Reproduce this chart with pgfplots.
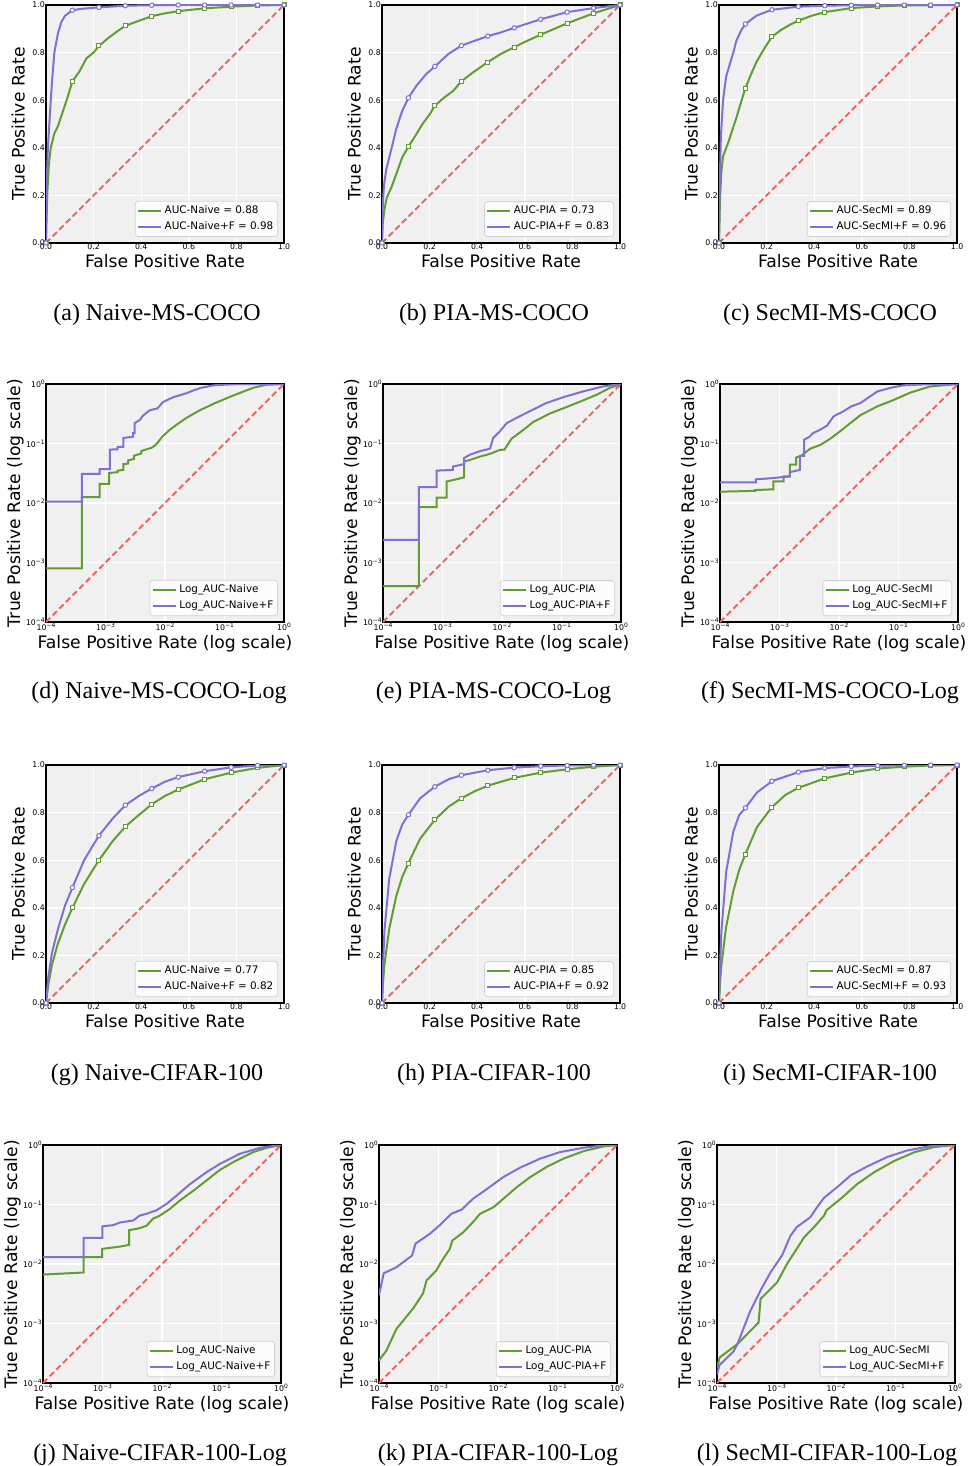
\documentclass[border=0pt]{standalone}
\usepackage{fontspec}
\setmainfont{DejaVu Sans}
\newfontfamily\capfont{Liberation Serif}
\usepackage{pgfplots}
\pgfplotsset{compat=1.18}

\definecolor{cgreen}{RGB}{96,158,50}
\definecolor{cpurple}{RGB}{128,112,214}
\definecolor{cred}{RGB}{238,102,96}
\definecolor{bgc}{RGB}{240,240,240}
\definecolor{legc}{RGB}{210,210,210}

% log tick label: 10 with a raised exponent
\newcommand{\lt}[1]{10\raisebox{1.5pt}{\fontsize{3}{3}\selectfont #1}}

\pgfplotsset{
  rocbase/.style={
    scale only axis, width=119pt, height=119pt,
    axis background/.style={fill=bgc},
    grid=major, major grid style={white, line width=0.7pt},
    axis line style={black, line width=0.9pt},
    major tick length=0pt, minor tick length=0pt,
    tick label style={font=\fontsize{3.9}{4.5}\selectfont, inner sep=0.8pt},
    xticklabel style={yshift=0.6pt},
    yticklabel style={xshift=0.4pt},
    label style={font=\fontsize{8.6}{10}\selectfont},
    /pgf/number format/assume math mode=true,
    legend cell align=left,
    legend style={at={(0.975,0.025)}, anchor=south east,
      font=\fontsize{5.2}{6}\selectfont, draw=legc, fill=white,
      fill opacity=0.8, text opacity=1, rounded corners=1.5pt,
      inner sep=1pt, nodes={inner sep=1.2pt}},
    legend image code/.code={\draw[##1] (0pt,0pt) -- (11.5pt,0pt);},
  },
  roclin/.style={rocbase,
    xmin=0, xmax=1, ymin=0, ymax=1,
    xtick={0,0.2,0.4,0.6,0.8,1}, ytick={0,0.2,0.4,0.6,0.8,1},
    tick label style={/pgf/number format/fixed,
      /pgf/number format/fixed zerofill, /pgf/number format/precision=1},
    xlabel={False Positive Rate}, ylabel={True Positive Rate},
    xlabel style={at={(axis description cs:0.5,-0.102)}, anchor=base},
    ylabel style={at={(axis description cs:-0.09,0.5)}, anchor=base},
  },
  roclog/.style={rocbase,
    xmin=1e-4, xmax=1, ymin=1e-4, ymax=1,
    xtick={1e-4,1e-3,1e-2,1e-1,1}, ytick={1e-4,1e-3,1e-2,1e-1,1},
    xticklabels={\lt{−4},\lt{−3},\lt{−2},\lt{−1},\lt{0}},
    yticklabels={\lt{−4},\lt{−3},\lt{−2},\lt{−1},\lt{0}},
    xlabel={False Positive Rate (log scale)}, ylabel={True Positive Rate (log scale)},
    xlabel style={at={(axis description cs:0.5,-0.11)}, anchor=base},
    ylabel style={at={(axis description cs:-0.109,0.5)}, anchor=base},
  },
  gl/.style={draw=cgreen, line width=1pt, no markers},
  pl/.style={draw=cpurple, line width=1pt, no markers},
  gm/.style={only marks, mark=square*, mark size=1pt,
    mark options={draw=cgreen, fill=white, line width=0.5pt}, forget plot},
  pm/.style={only marks, mark=*, mark size=1.1pt,
    mark options={draw=cpurple, fill=white, line width=0.5pt}, forget plot},
  diag/.style={draw=cred, line width=1pt, dash pattern=on 3pt off 1.7pt, forget plot},
}

\begin{document}
\begin{tikzpicture}
\path[use as bounding box] (0,0) rectangle (484.5pt,-733pt);

% ---------- row 1: MS-COCO, linear ----------
\begin{axis}[roclin, at={(23pt,-2.5pt)}, anchor=north west]
\addplot[diag] coordinates {(0,0)(1,1)};
\addplot[gl] coordinates {(0,0)(0.003,0.12)(0.006,0.22)(0.012,0.33)(0.02,0.40)(0.035,0.46)(0.05,0.49)(0.07,0.55)(0.09,0.61)(0.1111,0.68)(0.14,0.72)(0.17,0.776)(0.2,0.80)(0.2222,0.828)(0.26,0.86)(0.3,0.89)(0.3333,0.912)(0.38,0.93)(0.4444,0.953)(0.5,0.965)(0.5556,0.974)(0.6667,0.986)(0.7778,0.993)(0.8889,0.998)(1,1)};
\addplot[pl] coordinates {(0,0)(0.003,0.25)(0.008,0.4)(0.014,0.5)(0.02,0.6)(0.027,0.7)(0.035,0.8)(0.05,0.88)(0.065,0.93)(0.08,0.955)(0.1111,0.978)(0.15,0.984)(0.2222,0.99)(0.3333,0.997)(0.4444,0.999)(0.5556,1)(1,1)};
\addplot[gm] coordinates {(0,0)(0.1111,0.68)(0.2222,0.828)(0.3333,0.912)(0.4444,0.953)(0.5556,0.974)(0.6667,0.986)(0.7778,0.993)(0.8889,0.998)(1,1)};
\addplot[pm] coordinates {(0,0)(0.1111,0.978)(0.2222,0.99)(0.3333,0.997)(0.4444,0.999)(0.5556,1)(0.6667,1)(0.7778,1)(0.8889,1)(1,1)};
\legend{AUC-Naive = 0.88, AUC-Naive+F = 0.98}
\end{axis}

\begin{axis}[roclin, at={(191pt,-2.5pt)}, anchor=north west]
\addplot[diag] coordinates {(0,0)(1,1)};
\addplot[gl] coordinates {(0,0)(0.003,0.08)(0.01,0.14)(0.02,0.19)(0.04,0.235)(0.06,0.29)(0.085,0.36)(0.1111,0.405)(0.14,0.45)(0.17,0.5)(0.2,0.54)(0.2222,0.577)(0.26,0.61)(0.3,0.64)(0.3333,0.679)(0.38,0.715)(0.4444,0.76)(0.5,0.795)(0.5556,0.823)(0.6,0.845)(0.6667,0.875)(0.7778,0.923)(0.8889,0.965)(1,1)};
\addplot[pl] coordinates {(0,0)(0.003,0.15)(0.008,0.24)(0.018,0.31)(0.039,0.393)(0.06,0.48)(0.085,0.555)(0.1111,0.61)(0.144,0.66)(0.186,0.71)(0.2222,0.742)(0.28,0.795)(0.3333,0.829)(0.39,0.85)(0.4444,0.869)(0.5,0.885)(0.5556,0.904)(0.6667,0.94)(0.7778,0.97)(0.8889,0.987)(1,1)};
\addplot[gm] coordinates {(0,0)(0.1111,0.405)(0.2222,0.577)(0.3333,0.679)(0.4444,0.76)(0.5556,0.823)(0.6667,0.875)(0.7778,0.923)(0.8889,0.965)(1,1)};
\addplot[pm] coordinates {(0,0)(0.1111,0.61)(0.2222,0.742)(0.3333,0.829)(0.4444,0.869)(0.5556,0.904)(0.6667,0.94)(0.7778,0.97)(0.8889,0.987)(1,1)};
\legend{AUC-PIA = 0.73, AUC-PIA+F = 0.83}
\end{axis}

\begin{axis}[roclin, at={(359.5pt,-2.5pt)}, anchor=north west]
\addplot[diag] coordinates {(0,0)(1,1)};
\addplot[gl] coordinates {(0,0)(0.004,0.18)(0.01,0.3)(0.017,0.364)(0.038,0.42)(0.073,0.526)(0.095,0.6)(0.1111,0.651)(0.135,0.71)(0.157,0.76)(0.192,0.82)(0.2222,0.866)(0.26,0.895)(0.3,0.918)(0.3333,0.934)(0.39,0.955)(0.4444,0.97)(0.5556,0.987)(0.6667,0.994)(0.7778,0.998)(0.8889,0.999)(1,1)};
\addplot[pl] coordinates {(0,0)(0.003,0.25)(0.008,0.45)(0.017,0.6)(0.03,0.7)(0.045,0.75)(0.06,0.8)(0.073,0.85)(0.094,0.895)(0.1111,0.92)(0.157,0.955)(0.2222,0.98)(0.3333,0.993)(0.4444,0.997)(0.5556,0.999)(0.6667,1)(1,1)};
\addplot[gm] coordinates {(0,0)(0.1111,0.651)(0.2222,0.866)(0.3333,0.934)(0.4444,0.97)(0.5556,0.987)(0.6667,0.994)(0.7778,0.998)(0.8889,0.999)(1,1)};
\addplot[pm] coordinates {(0,0)(0.1111,0.92)(0.2222,0.98)(0.3333,0.993)(0.4444,0.997)(0.5556,0.999)(0.6667,1)(0.7778,1)(0.8889,1)(1,1)};
\legend{AUC-SecMI = 0.89, AUC-SecMI+F = 0.96}
\end{axis}

% ---------- row 2: MS-COCO, log ----------
\begin{loglogaxis}[roclog, at={(23pt,-192pt)}, anchor=north west]
\addplot[diag] coordinates {(1e-4,1e-4)(1,1)};
\addplot[gl] coordinates {(1e-4,8e-4)(4e-4,8e-4)(4e-4,0.0125)(8e-4,0.0125)(8e-4,0.021)(1.15e-3,0.021)(1.15e-3,0.032)(1.6e-3,0.033)(1.6e-3,0.035)(2.0e-3,0.036)(2.0e-3,0.045)(2.4e-3,0.046)(2.4e-3,0.052)(3.0e-3,0.055)(3.0e-3,0.062)(4e-3,0.068)(4e-3,0.075)(6e-3,0.085)(7e-3,0.095)(9e-3,0.13)(0.012,0.17)(0.016,0.21)(0.023,0.27)(0.038,0.36)(0.07,0.48)(0.14,0.64)(0.3,0.86)(0.5,0.97)(1,1)};
\addplot[pl] coordinates {(1e-4,0.0105)(4e-4,0.0105)(4e-4,0.031)(8e-4,0.031)(8e-4,0.037)(1.18e-3,0.037)(1.18e-3,0.079)(1.6e-3,0.08)(1.6e-3,0.088)(2e-3,0.088)(2e-3,0.124)(2.9e-3,0.13)(2.9e-3,0.15)(3.1e-3,0.15)(3.1e-3,0.22)(3.8e-3,0.25)(4.2e-3,0.29)(5.5e-3,0.36)(7.5e-3,0.39)(9.3e-3,0.5)(0.0138,0.6)(0.023,0.7)(0.03,0.78)(0.04,0.86)(0.065,0.95)(0.14,0.99)(1,1)};
\legend{Log\_AUC-Naive, Log\_AUC-Naive+F}
\end{loglogaxis}

\begin{loglogaxis}[roclog, at={(191.5pt,-192pt)}, anchor=north west]
\addplot[diag] coordinates {(1e-4,1e-4)(1,1)};
\addplot[gl] coordinates {(1e-4,4e-4)(4e-4,4e-4)(4e-4,8.5e-3)(8e-4,8.5e-3)(8e-4,0.0123)(1.17e-3,0.0123)(1.17e-3,0.023)(1.7e-3,0.025)(2.3e-3,0.027)(2.3e-3,0.05)(2.9e-3,0.053)(4.2e-3,0.06)(6.3e-3,0.067)(9.2e-3,0.078)(0.011,0.079)(0.0144,0.12)(0.023,0.17)(0.0335,0.23)(0.064,0.32)(0.107,0.39)(0.2,0.5)(0.39,0.66)(0.65,0.86)(1,1)};
\addplot[pl] coordinates {(1e-4,2.4e-3)(4e-4,2.4e-3)(4e-4,0.0185)(8e-4,0.0185)(8e-4,0.035)(1.5e-3,0.036)(1.5e-3,0.041)(2.3e-3,0.045)(2.3e-3,0.057)(2.9e-3,0.065)(4.2e-3,0.074)(6.3e-3,0.082)(7.1e-3,0.124)(9.2e-3,0.16)(0.012,0.22)(0.0176,0.27)(0.0295,0.35)(0.056,0.48)(0.107,0.6)(0.23,0.75)(0.5,0.91)(1,1)};
\legend{Log\_AUC-PIA, Log\_AUC-PIA+F}
\end{loglogaxis}

\begin{loglogaxis}[roclog, at={(360pt,-192pt)}, anchor=north west]
\addplot[diag] coordinates {(1e-4,1e-4)(1,1)};
\addplot[gl] coordinates {(1e-4,0.0155)(3.9e-4,0.016)(3.9e-4,0.0165)(7.9e-4,0.017)(7.9e-4,0.023)(1.17e-3,0.023)(1.17e-3,0.028)(1.5e-3,0.028)(1.5e-3,0.044)(1.9e-3,0.044)(1.9e-3,0.058)(2.3e-3,0.062)(3.3e-3,0.082)(4.9e-3,0.095)(7.1e-3,0.12)(0.0104,0.16)(0.0155,0.22)(0.023,0.3)(0.044,0.42)(0.083,0.54)(0.16,0.72)(0.34,0.91)(1,1)};
\addplot[pl] coordinates {(1e-4,0.0222)(4e-4,0.0222)(4e-4,0.025)(7e-4,0.026)(1.5e-3,0.028)(1.5e-3,0.033)(2.2e-3,0.036)(2.2e-3,0.062)(2.6e-3,0.062)(2.6e-3,0.116)(3.2e-3,0.13)(3.7e-3,0.15)(4.8e-3,0.17)(6.3e-3,0.2)(8.1e-3,0.286)(0.012,0.35)(0.016,0.42)(0.023,0.48)(0.044,0.75)(0.073,0.86)(0.12,0.95)(0.3,0.99)(1,1)};
\legend{Log\_AUC-SecMI, Log\_AUC-SecMI+F}
\end{loglogaxis}

% ---------- row 3: CIFAR-100, linear ----------
\begin{axis}[roclin, at={(23pt,-382.5pt)}, anchor=north west]
\addplot[diag] coordinates {(0,0)(1,1)};
\addplot[gl] coordinates {(0,0)(0.01,0.08)(0.025,0.16)(0.05,0.25)(0.08,0.33)(0.1111,0.40)(0.16,0.5)(0.2222,0.60)(0.28,0.68)(0.3333,0.741)(0.39,0.79)(0.4444,0.835)(0.5,0.87)(0.5556,0.897)(0.6667,0.94)(0.7778,0.968)(0.8889,0.988)(1,1)};
\addplot[pl] coordinates {(0,0)(0.01,0.11)(0.025,0.21)(0.05,0.31)(0.08,0.41)(0.1111,0.485)(0.16,0.6)(0.2222,0.703)(0.28,0.775)(0.3333,0.831)(0.39,0.87)(0.4444,0.901)(0.5,0.93)(0.5556,0.949)(0.6667,0.974)(0.7778,0.99)(0.8889,0.998)(1,1)};
\addplot[gm] coordinates {(0,0)(0.1111,0.40)(0.2222,0.60)(0.3333,0.741)(0.4444,0.835)(0.5556,0.897)(0.6667,0.94)(0.7778,0.968)(0.8889,0.988)(1,1)};
\addplot[pm] coordinates {(0,0)(0.1111,0.485)(0.2222,0.703)(0.3333,0.831)(0.4444,0.901)(0.5556,0.949)(0.6667,0.974)(0.7778,0.99)(0.8889,0.998)(1,1)};
\legend{AUC-Naive = 0.77, AUC-Naive+F = 0.82}
\end{axis}

\begin{axis}[roclin, at={(191pt,-382.5pt)}, anchor=north west]
\addplot[diag] coordinates {(0,0)(1,1)};
\addplot[gl] coordinates {(0,0)(0.004,0.08)(0.01,0.16)(0.03,0.31)(0.06,0.45)(0.085,0.53)(0.1111,0.588)(0.16,0.69)(0.2222,0.77)(0.28,0.825)(0.3333,0.86)(0.39,0.89)(0.4444,0.913)(0.5556,0.946)(0.6667,0.968)(0.7778,0.982)(0.8889,0.993)(1,1)};
\addplot[pl] coordinates {(0,0)(0.004,0.15)(0.01,0.3)(0.03,0.52)(0.06,0.68)(0.085,0.75)(0.1111,0.791)(0.16,0.86)(0.2222,0.909)(0.28,0.94)(0.3333,0.957)(0.4444,0.978)(0.5556,0.989)(0.6667,0.995)(0.7778,0.998)(0.8889,0.999)(1,1)};
\addplot[gm] coordinates {(0,0)(0.1111,0.588)(0.2222,0.77)(0.3333,0.86)(0.4444,0.913)(0.5556,0.946)(0.6667,0.968)(0.7778,0.982)(0.8889,0.993)(1,1)};
\addplot[pm] coordinates {(0,0)(0.1111,0.791)(0.2222,0.909)(0.3333,0.957)(0.4444,0.978)(0.5556,0.989)(0.6667,0.995)(0.7778,0.998)(0.8889,0.999)(1,1)};
\legend{AUC-PIA = 0.85, AUC-PIA+F = 0.92}
\end{axis}

\begin{axis}[roclin, at={(359.5pt,-382.5pt)}, anchor=north west]
\addplot[diag] coordinates {(0,0)(1,1)};
\addplot[gl] coordinates {(0,0)(0.004,0.08)(0.01,0.16)(0.03,0.32)(0.06,0.47)(0.085,0.56)(0.1111,0.626)(0.16,0.74)(0.2222,0.823)(0.28,0.875)(0.3333,0.904)(0.4444,0.944)(0.5556,0.968)(0.6667,0.985)(0.7778,0.993)(0.8889,0.998)(1,1)};
\addplot[pl] coordinates {(0,0)(0.004,0.15)(0.01,0.3)(0.03,0.55)(0.06,0.72)(0.085,0.79)(0.1111,0.82)(0.16,0.885)(0.2222,0.932)(0.3333,0.97)(0.4444,0.987)(0.5556,0.994)(0.6667,0.997)(0.7778,0.999)(0.8889,1)(1,1)};
\addplot[gm] coordinates {(0,0)(0.1111,0.626)(0.2222,0.823)(0.3333,0.904)(0.4444,0.944)(0.5556,0.968)(0.6667,0.985)(0.7778,0.993)(0.8889,0.998)(1,1)};
\addplot[pm] coordinates {(0,0)(0.1111,0.82)(0.2222,0.932)(0.3333,0.97)(0.4444,0.987)(0.5556,0.994)(0.6667,0.997)(0.7778,0.999)(0.8889,1)(1,1)};
\legend{AUC-SecMI = 0.87, AUC-SecMI+F = 0.93}
\end{axis}

% ---------- row 4: CIFAR-100, log ----------
\begin{loglogaxis}[roclog, at={(21.5pt,-572.5pt)}, anchor=north west]
\addplot[diag] coordinates {(1e-4,1e-4)(1,1)};
\addplot[gl] coordinates {(1e-4,6.65e-3)(4.8e-4,7.2e-3)(4.8e-4,0.013)(9.9e-4,0.013)(9.9e-4,0.018)(1.96e-3,0.0196)(2.8e-3,0.021)(2.8e-3,0.037)(4.2e-3,0.04)(5.5e-3,0.044)(7.1e-3,0.058)(9.2e-3,0.065)(0.0137,0.085)(0.02,0.117)(0.034,0.172)(0.056,0.254)(0.095,0.385)(0.16,0.52)(0.34,0.76)(0.58,0.9)(1,1)};
\addplot[pl] coordinates {(1e-4,0.013)(4.8e-4,0.013)(4.8e-4,0.0275)(1e-3,0.0275)(1e-3,0.043)(1.5e-3,0.045)(2e-3,0.05)(3.3e-3,0.054)(4.2e-3,0.065)(5.5e-3,0.07)(8.1e-3,0.08)(0.012,0.103)(0.0177,0.142)(0.0295,0.22)(0.056,0.35)(0.095,0.485)(0.205,0.715)(0.45,0.9)(1,1)};
\legend{Log\_AUC-Naive, Log\_AUC-Naive+F}
\end{loglogaxis}

\begin{loglogaxis}[roclog, at={(189.5pt,-572.5pt)}, anchor=north west]
\addplot[diag] coordinates {(1e-4,1e-4)(1,1)};
\addplot[gl] coordinates {(1e-4,2.4e-4)(1.33e-4,3.5e-4)(1.96e-4,8.1e-4)(3.7e-4,1.76e-3)(5.5e-4,3.2e-3)(6.3e-4,5.3e-3)(9.2e-4,7.8e-3)(1.1e-3,0.0107)(1.55e-3,0.018)(1.7e-3,0.0247)(2.6e-3,0.034)(3.8e-3,0.0507)(5e-3,0.07)(8.4e-3,0.09)(0.0123,0.125)(0.0207,0.196)(0.035,0.29)(0.066,0.43)(0.126,0.59)(0.275,0.79)(0.6,0.95)(1,1)};
\addplot[pl] coordinates {(1e-4,3e-3)(1.2e-4,7e-3)(1.96e-4,8.8e-3)(3.6e-4,0.0139)(4.1e-4,0.022)(7.1e-4,0.032)(1.05e-3,0.045)(1.65e-3,0.07)(2.45e-3,0.082)(3.8e-3,0.125)(6.4e-3,0.18)(0.0123,0.29)(0.0234,0.415)(0.051,0.59)(0.11,0.76)(0.275,0.9)(0.6,0.99)(1,1)};
\legend{Log\_AUC-PIA, Log\_AUC-PIA+F}
\end{loglogaxis}

\begin{loglogaxis}[roclog, at={(358.5pt,-572.5pt)}, anchor=north west]
\addplot[diag] coordinates {(1e-4,1e-4)(1,1)};
\addplot[gl] coordinates {(1e-4,1.8e-4)(1.11e-4,2.7e-4)(2.2e-4,4.5e-4)(5e-4,1.04e-3)(5.4e-4,2.6e-3)(1.02e-3,4.9e-3)(1.5e-3,0.01)(2.9e-3,0.028)(4.3e-3,0.042)(6.3e-3,0.065)(6.9e-3,0.08)(0.012,0.125)(0.023,0.223)(0.044,0.35)(0.095,0.54)(0.21,0.76)(0.45,0.925)(1,1)};
\addplot[pl] coordinates {(1e-4,1.4e-4)(1.1e-4,2e-4)(1.9e-4,3.4e-4)(2.3e-4,5e-4)(3.6e-4,1.6e-3)(5.4e-4,3.6e-3)(7.9e-4,7.2e-3)(1.24e-3,0.014)(1.72e-3,0.03)(2.2e-3,0.042)(3.7e-3,0.061)(4.8e-3,0.09)(6.3e-3,0.13)(0.0105,0.196)(0.0177,0.31)(0.034,0.44)(0.073,0.63)(0.158,0.81)(0.39,0.96)(1,1)};
\legend{Log\_AUC-SecMI, Log\_AUC-SecMI+F}
\end{loglogaxis}

% ---------- sub-captions ----------
\begin{scope}[every node/.style={font=\capfont\fontsize{12}{14}\selectfont, anchor=base}]
\node at (78.5pt,-160pt) {(a)\ Naive-MS-COCO};
\node at (247pt,-160pt) {(b)\ PIA-MS-COCO};
\node at (415pt,-160pt) {(c)\ SecMI-MS-COCO};
\node at (79.5pt,-349pt) {(d)\ Naive-MS-COCO-Log};
\node at (246.75pt,-349pt) {(e)\ PIA-MS-COCO-Log};
\node at (415pt,-349pt) {(f)\ SecMI-MS-COCO-Log};
\node at (78.5pt,-540pt) {(g)\ Naive-CIFAR-100};
\node at (247pt,-540pt) {(h)\ PIA-CIFAR-100};
\node at (415pt,-540pt) {(i)\ SecMI-CIFAR-100};
\node at (80pt,-730pt) {(j)\ Naive-CIFAR-100-Log};
\node at (249pt,-730pt) {(k)\ PIA-CIFAR-100-Log};
\node at (413.5pt,-730pt) {(l)\ SecMI-CIFAR-100-Log};
\end{scope}
\end{tikzpicture}
\end{document}
